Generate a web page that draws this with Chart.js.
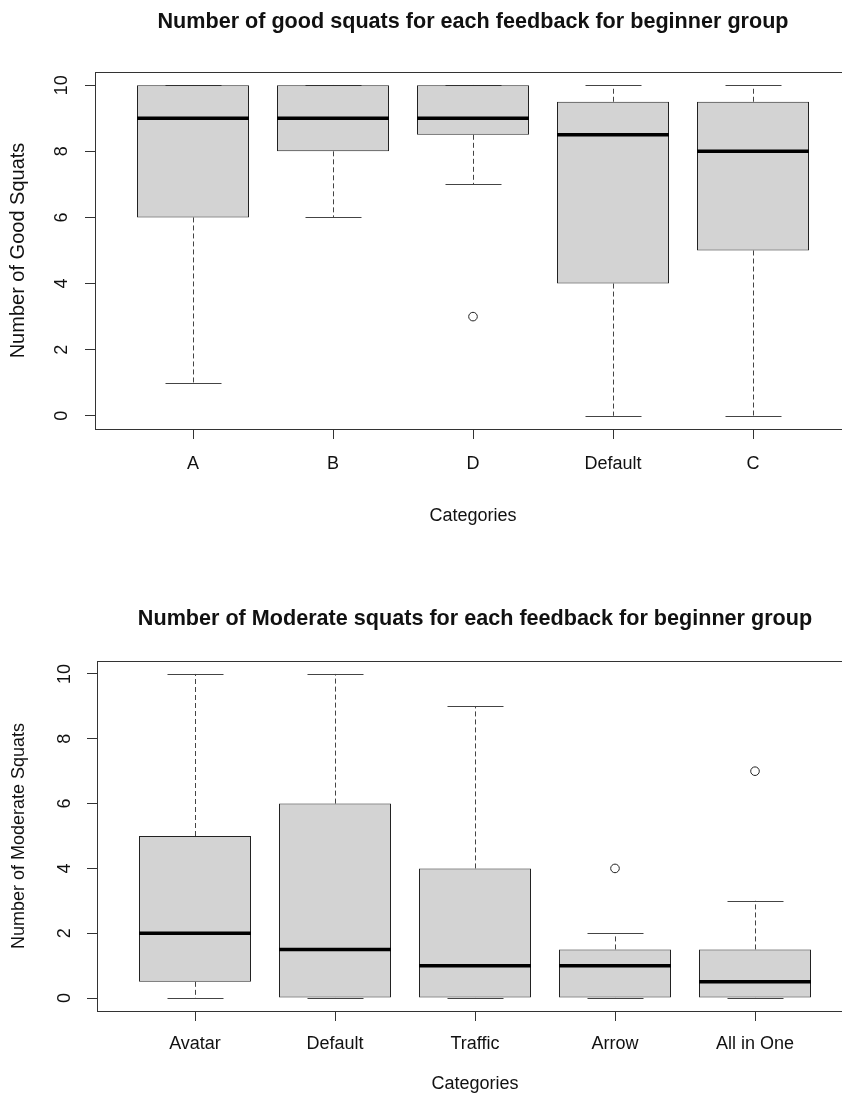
<!DOCTYPE html>
<html>
<head>
<meta charset="utf-8">
<script src="https://cdn.jsdelivr.net/npm/chart.js@4/dist/chart.umd.min.js"></script>
<style>
  html, body { margin: 0; padding: 0; background: #fff; overflow: hidden; width: 842px; height: 1099px; }
  canvas { position: absolute; left: 0; display: block; }
  #good { top: 0; }
  #moderate { top: 560px; }
</style>
</head>
<body>
<canvas id="good" width="946" height="560"></canvas>
<canvas id="moderate" width="950" height="539"></canvas>
<script>
const yTicks = [0, 2, 4, 6, 8, 10];

// good squats
const goodCategories = ['A', 'B', 'D', 'Default', 'C'];
const goodLow = [1, 6, 7, 0, 0];
const goodQ1 = [6, 8, 8.5, 4, 5];
const goodMedian = [9, 9, 9, 8.5, 8];
const goodQ3 = [10, 10, 10, 9.5, 9.5];
const goodHigh = [10, 10, 10, 10, 10];
const goodOutliers = [[], [], [3], [], []];

// moderate squats
const modCategories = ['Avatar', 'Default', 'Traffic', 'Arrow', 'All in One'];
const modLow = [0, 0, 0, 0, 0];
const modQ1 = [0.5, 0, 0, 0, 0];
const modMedian = [2, 1.5, 1, 1, 0.5];
const modQ3 = [5, 6, 4, 1.5, 1.5];
const modHigh = [10, 10, 9, 2, 3];
const modOutliers = [[], [], [], [4], [7]];

const FAMILY = '"Liberation Sans", Arial, Helvetica, sans-serif';
const INK = '#111';
const LINE = '#333';

function boxParts(stats) {
    return {
        id: 'boxParts',
        beforeDatasetsDraw(chart) {
            const { ctx, scales: { x, y } } = chart;
            const meta = chart.getDatasetMeta(0);
            ctx.save();
            ctx.strokeStyle = '#444';
            ctx.lineWidth = 1;
            stats.low.forEach((lo, i) => {
                const px = Math.round(x.getPixelForValue(i + 1)) + 0.5;
                const half = meta.data[i].width / 4;
                [[stats.q3[i], stats.high[i]], [stats.q1[i], lo]].forEach(([from, to]) => {
                    ctx.setLineDash([5, 3]);
                    ctx.beginPath();
                    ctx.moveTo(px, y.getPixelForValue(from));
                    ctx.lineTo(px, y.getPixelForValue(to));
                    ctx.stroke();
                    ctx.setLineDash([]);
                    const yc = Math.round(y.getPixelForValue(to)) + 0.5;
                    ctx.beginPath();
                    ctx.moveTo(px - half, yc);
                    ctx.lineTo(px + half, yc);
                    ctx.stroke();
                });
            });
            ctx.restore();
        },
        afterDatasetsDraw(chart) {
            const { ctx, scales: { y } } = chart;
            const meta = chart.getDatasetMeta(0);
            ctx.save();
            ctx.strokeStyle = '#000';
            ctx.lineWidth = 3.5;
            stats.median.forEach((m, i) => {
                const bar = meta.data[i];
                const py = y.getPixelForValue(m);
                ctx.beginPath();
                ctx.moveTo(bar.x - bar.width / 2, py);
                ctx.lineTo(bar.x + bar.width / 2, py);
                ctx.stroke();
            });
            ctx.restore();
        },
        afterDraw(chart) {
            const { ctx, chartArea: a, scales: { x, y } } = chart;
            ctx.save();
            ctx.strokeStyle = LINE;
            ctx.lineWidth = 1;
            ctx.strokeRect(Math.round(a.left) + 0.5, Math.round(a.top) + 0.5,
                Math.round(a.right - a.left), Math.round(a.bottom - a.top));
            // axis lines between first and last tick, as R draws them
            ctx.beginPath();
            ctx.moveTo(x.getPixelForValue(1), Math.round(a.bottom) + 0.5);
            ctx.lineTo(x.getPixelForValue(stats.low.length), Math.round(a.bottom) + 0.5);
            ctx.moveTo(Math.round(a.left) + 0.5, y.getPixelForValue(yTicks[0]));
            ctx.lineTo(Math.round(a.left) + 0.5, y.getPixelForValue(yTicks[yTicks.length - 1]));
            ctx.stroke();
            ctx.restore();
        }
    };
}

function setupBoxChart(canvasId, cfg) {
    const boxes = cfg.q1.map((q, i) => ({ x: i + 1, y: [q, cfg.q3[i]] }));
    const points = cfg.outliers.flatMap((vals, i) => vals.map((v) => ({ x: i + 1, y: v })));
    const axisFont = { family: FAMILY, size: 18 };

    const ctx = document.getElementById(canvasId).getContext('2d');
    return new Chart(ctx, {
        type: 'bar',
        data: {
            datasets: [
                {
                    type: 'bar',
                    data: boxes,
                    backgroundColor: '#d3d3d3',
                    borderColor: '#222',
                    borderWidth: 1,
                    borderSkipped: false,
                    barPercentage: 0.8,
                    categoryPercentage: 1
                },
                {
                    type: 'scatter',
                    data: points,
                    pointStyle: 'circle',
                    pointRadius: 4.3,
                    borderWidth: 1,
                    borderColor: '#222',
                    backgroundColor: 'rgba(0,0,0,0)'
                }
            ]
        },
        options: {
            responsive: false,
            animation: false,
            devicePixelRatio: 1,
            events: [],
            layout: { padding: { left: 0, right: cfg.left, top: 0, bottom: 0 } },
            plugins: {
                legend: { display: false },
                tooltip: { enabled: false },
                title: {
                    display: true,
                    fullSize: false,
                    text: cfg.title,
                    color: INK,
                    font: { family: FAMILY, size: 21.6, weight: 'bold' },
                    padding: { top: cfg.titleTop, bottom: cfg.titleBottom }
                }
            },
            scales: {
                x: {
                    type: 'linear',
                    offset: false,
                    min: 0.3,
                    max: cfg.categories.length + 0.7,
                    afterBuildTicks: (s) => { s.ticks = cfg.categories.map((c, i) => ({ value: i + 1 })); },
                    afterFit: (s) => { s.height = cfg.xHeight; },
                    ticks: {
                        callback: (v, i) => cfg.categories[i],
                        font: axisFont,
                        color: INK,
                        padding: cfg.xTickPad,
                        autoSkip: false,
                        maxRotation: 0
                    },
                    grid: { offset: false, drawOnChartArea: false, drawTicks: true, tickLength: 10, color: LINE },
                    border: { display: false },
                    title: {
                        display: true,
                        text: 'Categories',
                        color: INK,
                        font: axisFont,
                        padding: { top: 0, bottom: cfg.xTitlePad }
                    }
                },
                y: {
                    type: 'linear',
                    min: -0.4,
                    max: 10.4,
                    afterBuildTicks: (s) => { s.ticks = yTicks.map((v) => ({ value: v })); },
                    afterFit: (s) => { s.width = cfg.left; },
                    ticks: {
                        font: axisFont,
                        color: INK,
                        padding: cfg.yTickPad,
                        minRotation: 90,
                        maxRotation: 90,
                        crossAlign: 'center'
                    },
                    grid: { drawOnChartArea: false, drawTicks: true, tickLength: 10, color: LINE },
                    border: { display: false },
                    title: {
                        display: true,
                        text: cfg.yTitle,
                        color: INK,
                        font: { family: FAMILY, size: cfg.yTitleSize },
                        padding: { top: cfg.yTitlePad, bottom: 0 }
                    }
                }
            }
        },
        plugins: [boxParts(cfg)]
    });
}

setupBoxChart('good', {
    title: 'Number of good squats for each feedback for beginner group',
    yTitle: 'Number of Good Squats',
    categories: goodCategories,
    low: goodLow, q1: goodQ1, median: goodMedian, q3: goodQ3, high: goodHigh,
    outliers: goodOutliers,
    left: 95, titleTop: 9, titleBottom: 37.08, xHeight: 131,
    xTickPad: 14, xTitlePad: 32.7, yTickPad: 12.5, yTitlePad: 6.5, yTitleSize: 20
});

setupBoxChart('moderate', {
    title: 'Number of Moderate squats for each feedback for beginner group',
    yTitle: 'Number of Moderate Squats',
    categories: modCategories,
    low: modLow, q1: modQ1, median: modMedian, q3: modQ3, high: modHigh,
    outliers: modOutliers,
    left: 97, titleTop: 46, titleBottom: 29.08, xHeight: 88,
    xTickPad: 12, xTitlePad: 4.2, yTickPad: 12, yTitlePad: 8.7, yTitleSize: 18
});
</script>
</body>
</html>
